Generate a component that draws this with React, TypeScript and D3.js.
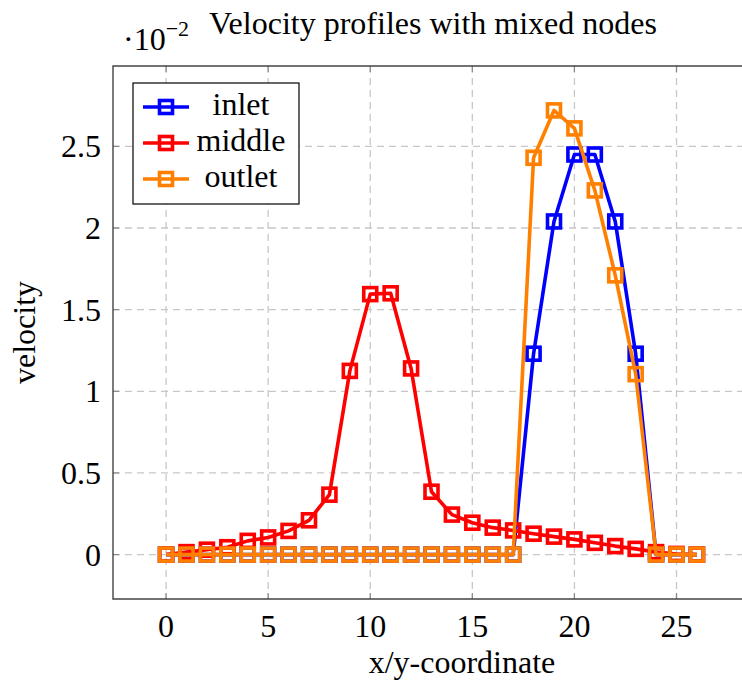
import React from 'react';
import * as d3 from 'd3';

// x/y-coordinate nodes
const nodes = d3.range(0, 27);

// velocity values (in units of 1e-2)
const inlet = [0, 0, 0, 0, 0, 0, 0, 0, 0, 0, 0, 0, 0, 0, 0, 0, 0, 0,
  1.23, 2.04, 2.45, 2.45, 2.04, 1.23, 0, 0, 0];
const middle = [0, 0.015, 0.03, 0.045, 0.084, 0.105, 0.145, 0.21, 0.367, 1.125, 1.595, 1.6, 1.14,
  0.385, 0.245, 0.195, 0.165, 0.148, 0.128, 0.11, 0.093, 0.072, 0.052, 0.035, 0.015, 0.004, 0];
const outlet = [0, 0, 0, 0, 0, 0, 0, 0, 0, 0, 0, 0, 0, 0, 0, 0, 0, 0,
  2.43, 2.72, 2.61, 2.23, 1.71, 1.105, 0, 0, 0];

const series = [
  { name: 'inlet', values: inlet, color: '#0000ff' },
  { name: 'middle', values: middle, color: '#ff0000' },
  { name: 'outlet', values: outlet, color: '#ff8000' },
];

const xTicks = [0, 5, 10, 15, 20, 25];
const yTicks = [0, 0.5, 1, 1.5, 2, 2.5];

const FONT = '"Liberation Serif", "Times New Roman", serif';

export default function App() {
  const width = 742;
  const height = 688;
  const plot = { left: 113, top: 66, right: 750, bottom: 599 };

  // pgfplots-style enlarged limits (10% each side)
  const xScale = d3.scaleLinear().domain([-2.6, 28.6]).range([plot.left, plot.right]);
  const yScale = d3.scaleLinear().domain([-0.272, 2.992]).range([plot.bottom, plot.top]);

  const line = d3.line<number>()
    .x((d, i) => xScale(nodes[i]))
    .y(d => yScale(d));

  const markSize = 13;
  const markStroke = 3.6;
  const lineWidth = 3.6;
  const gridColor = '#c8c8c8';
  const axisColor = '#444';
  const fs = 32;

  const legend = { x: 133, y: 83, w: 166, h: 121 };

  return (
    <svg width={width} height={height} style={{ position: 'absolute', left: 0, top: 0 }}
      fontFamily={FONT}>
      <rect width={width} height={height} fill="white" />

      {/* grid */}
      {xTicks.map(t => (
        <line key={'gx' + t} x1={xScale(t)} x2={xScale(t)} y1={plot.top} y2={plot.bottom}
          stroke={gridColor} strokeWidth={1.3} strokeDasharray="7,5" />
      ))}
      {yTicks.map(t => (
        <line key={'gy' + t} x1={plot.left} x2={plot.right} y1={yScale(t)} y2={yScale(t)}
          stroke={gridColor} strokeWidth={1.3} strokeDasharray="7,5" />
      ))}

      {/* tick marks */}
      {xTicks.map(t => (
        <g key={'tx' + t} stroke="#888" strokeWidth={1.2}>
          <line x1={xScale(t)} x2={xScale(t)} y1={plot.bottom} y2={plot.bottom - 6} />
          <line x1={xScale(t)} x2={xScale(t)} y1={plot.top} y2={plot.top + 6} />
        </g>
      ))}
      {yTicks.map(t => (
        <line key={'ty' + t} x1={plot.left} x2={plot.left + 6} y1={yScale(t)} y2={yScale(t)}
          stroke="#888" strokeWidth={1.2} />
      ))}

      {/* axis box */}
      <path d={`M${plot.right},${plot.top}H${plot.left}V${plot.bottom}H${plot.right}`}
        fill="none" stroke={axisColor} strokeWidth={1.4} />

      {/* series */}
      {series.map(s => (
        <g key={s.name}>
          <path d={line(s.values) || ''} fill="none" stroke={s.color} strokeWidth={lineWidth}
            strokeLinejoin="round" />
          {s.values.map((v, i) => (
            <rect key={i} x={xScale(nodes[i]) - markSize / 2} y={yScale(v) - markSize / 2}
              width={markSize} height={markSize} fill="none" stroke={s.color}
              strokeWidth={markStroke} />
          ))}
        </g>
      ))}

      {/* tick labels */}
      {xTicks.map(t => (
        <text key={'lx' + t} x={xScale(t)} y={637} textAnchor="middle" fontSize={fs}>{t}</text>
      ))}
      {yTicks.map(t => (
        <text key={'ly' + t} x={101} y={yScale(t) + 11} textAnchor="end" fontSize={fs}>{t}</text>
      ))}

      {/* scale factor */}
      <text x={123} y={50} fontSize={fs}>
        ·10<tspan fontSize={22} dy={-14}>−2</tspan>
      </text>

      {/* title */}
      <text x={433} y={34} textAnchor="middle" fontSize={fs}>
        Velocity profiles with mixed nodes
      </text>

      {/* axis labels */}
      <text x={462} y={673} textAnchor="middle" fontSize={fs}>
        x/y-coordinate
      </text>
      <text transform={`translate(35, ${(plot.top + plot.bottom) / 2}) rotate(-90)`}
        textAnchor="middle" fontSize={fs}>velocity</text>

      {/* legend */}
      <rect x={legend.x} y={legend.y} width={legend.w} height={legend.h}
        fill="white" stroke="black" strokeWidth={1.2} />
      {series.map((s, i) => {
        const cy = 107 + i * 36;
        return (
          <g key={'leg' + s.name}>
            <line x1={143} x2={189} y1={cy} y2={cy} stroke={s.color} strokeWidth={lineWidth} />
            <rect x={166 - markSize / 2} y={cy - markSize / 2} width={markSize} height={markSize}
              fill="none" stroke={s.color} strokeWidth={markStroke} />
            <text x={241} y={cy + 8} textAnchor="middle" fontSize={fs}>{s.name}</text>
          </g>
        );
      })}
    </svg>
  );
}
